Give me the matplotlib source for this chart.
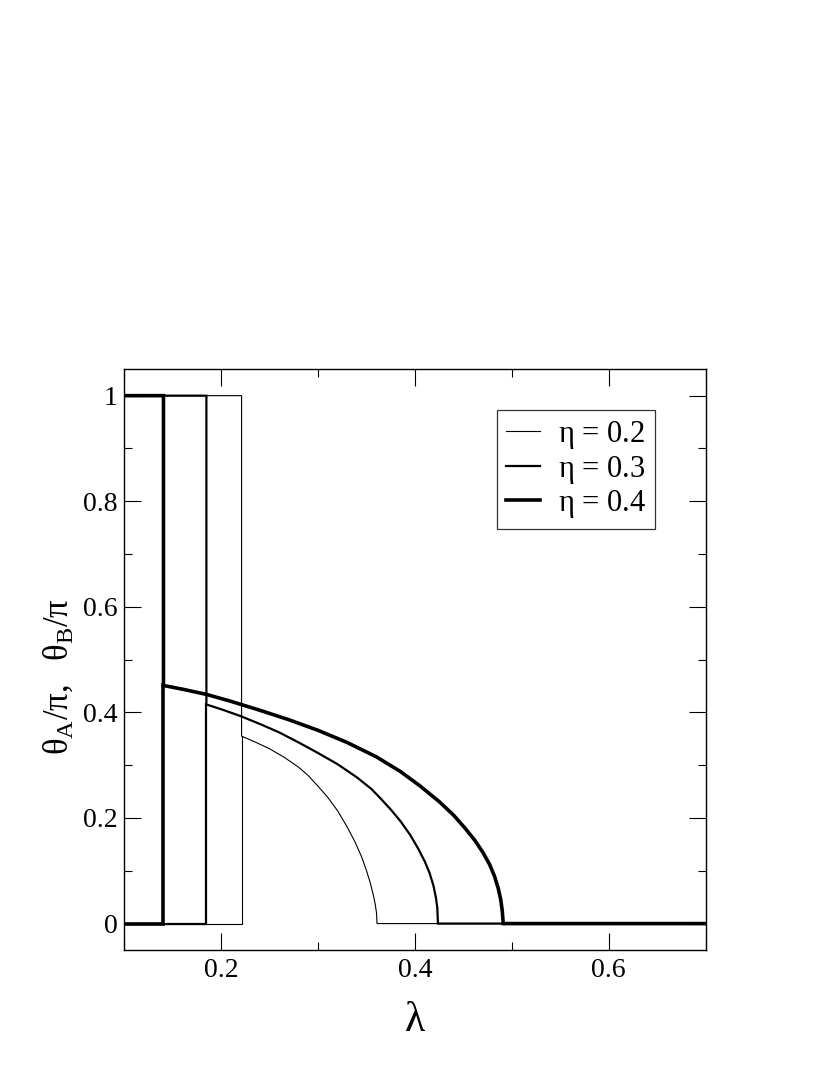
import numpy as np
import matplotlib
matplotlib.use('Agg')
import matplotlib.pyplot as plt
from matplotlib.ticker import MultipleLocator

plt.rcParams['font.family'] = ['Liberation Serif', 'DejaVu Serif']
plt.rcParams['mathtext.fontset'] = 'custom'
plt.rcParams['mathtext.rm'] = 'Liberation Serif'
plt.rcParams['mathtext.it'] = 'Liberation Serif'

# values
etas = ['0.2', '0.3', '0.4']
lam_jump = [0.221, 0.1847, 0.1404]

lam_02 = [0.221, 0.235, 0.250, 0.265, 0.280, 0.290, 0.300, 0.310, 0.320, 0.330,
          0.338, 0.345, 0.350, 0.354, 0.357, 0.359, 0.3603, 0.3608]
th_02 = [0.355, 0.344, 0.331, 0.315, 0.296, 0.280, 0.260, 0.239, 0.214, 0.183,
         0.155, 0.126, 0.100, 0.076, 0.054, 0.036, 0.020, 0.0]

lam_03 = [0.1847, 0.200, 0.220, 0.240, 0.260, 0.280, 0.300, 0.320, 0.340, 0.355,
          0.365, 0.375, 0.385, 0.395, 0.403, 0.410, 0.415, 0.419, 0.4215, 0.423, 0.4237]
th_03 = [0.415, 0.406, 0.393, 0.378, 0.362, 0.343, 0.323, 0.302, 0.277, 0.255,
         0.236, 0.216, 0.194, 0.168, 0.143, 0.118, 0.096, 0.072, 0.050, 0.030, 0.0]

lam_04 = [0.1404, 0.160, 0.185, 0.210, 0.240, 0.270, 0.300, 0.330, 0.360, 0.385,
          0.405, 0.425, 0.440, 0.452, 0.462, 0.470, 0.477, 0.482, 0.486, 0.4885,
          0.490, 0.4911]
th_04 = [0.451, 0.444, 0.434, 0.421, 0.404, 0.386, 0.366, 0.343, 0.316, 0.288,
         0.261, 0.231, 0.205, 0.180, 0.157, 0.135, 0.112, 0.090, 0.066, 0.045,
         0.025, 0.0]

curves_lam = [lam_02, lam_03, lam_04]
curves_th = [th_02, th_03, th_04]
widths = [0.8, 1.6, 2.6]

xmin, xmax = 0.1, 0.7

fig = plt.figure(figsize=(8.3, 10.75), dpi=100)
ax = fig.add_axes([0.1498, 0.1163, 0.7004, 0.5402])

for eta, xj, lx, ty, lw in zip(etas, lam_jump, curves_lam, curves_th, widths):
    # theta_A branch: pi before the jump, then the curve
    xa = np.concatenate([[xmin, xj], lx, [xmax]])
    ya = np.concatenate([[1.0, 1.0], ty, [0.0]])
    ax.plot(xa, ya, color='black', lw=lw, label=r'$\eta$ = ' + eta,
            solid_joinstyle='miter')
    # theta_B branch: 0 before the jump, then up to the curve
    ax.plot([xmin, xj, xj], [0.0, 0.0, ty[0]], color='black', lw=lw,
            solid_joinstyle='miter')

ax.set_xlim(xmin, xmax)
ax.set_ylim(-0.05, 1.05)
ax.xaxis.set_minor_locator(MultipleLocator(0.1))
ax.yaxis.set_minor_locator(MultipleLocator(0.1))
ax.set_xticks([0.2, 0.4, 0.6])
ax.set_xticklabels(['0.2', '0.4', '0.6'])
ax.set_yticks([0, 0.2, 0.4, 0.6, 0.8, 1])
ax.set_yticklabels(['0', '0.2', '0.4', '0.6', '0.8', '1'])

ax.tick_params(which='both', direction='in', top=True, right=True, width=0.8)
ax.tick_params(which='major', length=12, labelsize=20)
ax.tick_params(which='minor', length=6)
ax.tick_params(axis='y', pad=5)
ax.tick_params(axis='x', pad=6)
for s in ax.spines.values():
    s.set_linewidth(1.0)

ax.set_xlabel(r'$\lambda$', fontsize=30, labelpad=13)
ax.set_ylabel(r'$\theta_A/\pi,\ \ \theta_B/\pi$', fontsize=25)
ax.yaxis.set_label_coords(-0.083, 0.47)

leg = ax.legend(loc='upper right', bbox_to_anchor=(0.913, 0.930), borderaxespad=0,
                fontsize=22, frameon=True, fancybox=False, handlelength=1.1,
                handletextpad=0.6, labelspacing=0.08, borderpad=0.3)
leg.get_frame().set_edgecolor('black')
leg.get_frame().set_linewidth(0.9)

fig.savefig('out.png', dpi=100)
